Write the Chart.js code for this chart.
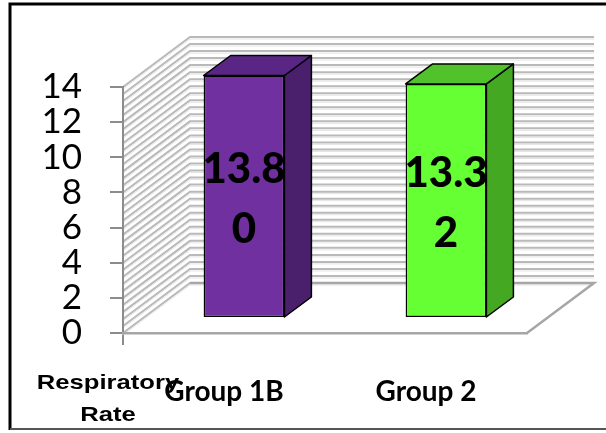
<!DOCTYPE html>
<html>
<head>
<meta charset="utf-8">
<script src="https://cdn.jsdelivr.net/npm/chart.js@4"></script>
<style>
  html, body { margin: 0; padding: 0; background: #fff; }
  canvas { display: block; }
</style>
</head>
<body>
<canvas id="myChart" width="606" height="433"></canvas>
<script>
// Dữ liệu của biểu đồ
const categories = ['Group 1B', 'Group 2'];
const values = [13.80, 13.32];
const yTicks = [0, 2, 4, 6, 8, 10, 12, 14];
const axisTitle = ['Respiratory', 'Rate'];

// Màu các mặt của cột 3D
const frontColors = ['#7030a0', '#66ff33'];
const sideColors = ['#4a1f6c', '#44a823'];
const topColors = ['#5a2686', '#52c22c'];

// Độ sâu giả 3D (pixel)
const wallDepth = { x: 67, y: -50 };
const barShift = { x: 20, y: -15 };
const barDepth = { x: 27, y: -20 };

// Vẽ tường, sàn và khung
const wallsPlugin = {
    id: 'walls',
    beforeDraw(chart) {
        const ctx = chart.ctx;
        const area = chart.chartArea;
        const y = chart.scales.y;
        ctx.save();
        // khung ngoài
        ctx.strokeStyle = '#000';
        ctx.lineWidth = 3;
        ctx.beginPath();
        ctx.moveTo(10, 430); ctx.lineTo(10, 4); ctx.lineTo(606, 4);
        ctx.stroke();
        ctx.strokeStyle = '#555';
        ctx.lineWidth = 2;
        ctx.beginPath();
        ctx.moveTo(10, 429); ctx.lineTo(606, 429);
        ctx.stroke();

        // các đường kẻ trên tường
        for (let v = 0; v <= 14.001; v += 0.4) {
            const py = y.getPixelForValue(v);
            ctx.lineWidth = 2;
            ctx.strokeStyle = '#b9b9b9';
            ctx.beginPath();
            ctx.moveTo(area.left, py);
            ctx.lineTo(area.left + wallDepth.x, py + wallDepth.y);
            ctx.lineTo(area.right + wallDepth.x, py + wallDepth.y);
            ctx.stroke();
            ctx.lineWidth = 1;
            ctx.strokeStyle = '#e4e4e4';
            ctx.beginPath();
            ctx.moveTo(area.left, py + 2);
            ctx.lineTo(area.left + wallDepth.x, py + 2 + wallDepth.y);
            ctx.lineTo(area.right + wallDepth.x, py + 2 + wallDepth.y);
            ctx.stroke();
        }
        // sàn
        ctx.strokeStyle = '#a6a6a6';
        ctx.lineWidth = 2.5;
        ctx.beginPath();
        ctx.moveTo(area.right, area.bottom);
        ctx.lineTo(area.right + wallDepth.x, area.bottom + wallDepth.y);
        ctx.lineTo(area.left + wallDepth.x, area.bottom + wallDepth.y);
        ctx.stroke();
        ctx.restore();
    },
    beforeDatasetsDraw(chart) {
        chart.ctx.save();
        chart.ctx.translate(barShift.x, barShift.y);
    },
    afterDatasetsDraw(chart) {
        const ctx = chart.ctx;
        const meta = chart.getDatasetMeta(0);
        meta.data.forEach((bar, i) => {
            const l = bar.x - bar.width / 2;
            const r = bar.x + bar.width / 2;
            ctx.lineWidth = 1.5;
            ctx.strokeStyle = '#000';
            ctx.lineJoin = 'round';
            // mặt bên
            ctx.fillStyle = sideColors[i];
            ctx.beginPath();
            ctx.moveTo(r, bar.y);
            ctx.lineTo(r + barDepth.x, bar.y + barDepth.y);
            ctx.lineTo(r + barDepth.x, bar.base + barDepth.y);
            ctx.lineTo(r, bar.base);
            ctx.closePath();
            ctx.fill(); ctx.stroke();
            // mặt trên
            ctx.fillStyle = topColors[i];
            ctx.beginPath();
            ctx.moveTo(l, bar.y);
            ctx.lineTo(l + barDepth.x, bar.y + barDepth.y);
            ctx.lineTo(r + barDepth.x, bar.y + barDepth.y);
            ctx.lineTo(r, bar.y);
            ctx.closePath();
            ctx.fill(); ctx.stroke();

            // nhãn giá trị (bị xuống dòng như bản gốc)
            const s = values[i].toFixed(2);
            const mid = (bar.y + bar.base) / 2;
            ctx.fillStyle = '#000';
            ctx.font = '900 42px Lato';
            ctx.textAlign = 'center';
            ctx.textBaseline = 'middle';
            ctx.fillText(s.slice(0, 4), bar.x, mid - 27);
            ctx.fillText(s.slice(4), bar.x, mid + 33);
        });
        ctx.restore();
    },
    afterDraw(chart) {
        const ctx = chart.ctx;
        ctx.save();
        ctx.fillStyle = '#000';
        ctx.textAlign = 'center';
        ctx.textBaseline = 'alphabetic';
        ctx.font = 'bold 21px "Liberation Sans", Arial';
        const base = [389, 421];
        axisTitle.forEach((t, i) => {
            ctx.save();
            ctx.translate(108, base[i]);
            ctx.scale(1.22, 1);
            ctx.fillText(t, 0, 0);
            ctx.restore();
        });
        ctx.restore();
    }
};

const chartData = {
    labels: categories,
    datasets: [{
        data: values,
        backgroundColor: frontColors,
        borderColor: '#000',
        borderWidth: 1.5,
        borderSkipped: false,
        barPercentage: 0.5,
        categoryPercentage: 0.8
    }]
};

const config = {
    type: 'bar',
    data: chartData,
    options: {
        responsive: false,
        animation: false,
        devicePixelRatio: 1,
        layout: { padding: { top: 87, right: 79, left: 0, bottom: 0 } },
        plugins: {
            legend: { display: false },
            tooltip: { enabled: false }
        },
        scales: {
            y: {
                min: 0,
                max: 14,
                afterFit: s => { s.width = 123; },
                afterBuildTicks: s => { s.ticks = yTicks.map(v => ({ value: v })); },
                ticks: {
                    autoSkip: false,
                    padding: 28,
                    color: '#000',
                    font: { family: 'Lato', size: 35 }
                },
                grid: { drawOnChartArea: false, tickLength: 13, color: '#8c8c8c', lineWidth: 2 },
                border: { color: '#8c8c8c', width: 2 }
            },
            x: {
                afterFit: s => { s.height = 100; },
                ticks: {
                    padding: 30,
                    color: '#000',
                    font: { family: 'Lato', size: 28, weight: 'bold' }
                },
                grid: {
                    drawOnChartArea: false,
                    tickLength: 12,
                    lineWidth: 2,
                    color: c => c.index === 0 ? '#8c8c8c' : 'rgba(0,0,0,0)'
                },
                border: { color: '#a6a6a6', width: 2.5 }
            }
        }
    }
};

// Vẽ biểu đồ
const myChart = new Chart(
    document.getElementById('myChart'),
    Object.assign(config, { plugins: [wallsPlugin] })
);
</script>
</body>
</html>
